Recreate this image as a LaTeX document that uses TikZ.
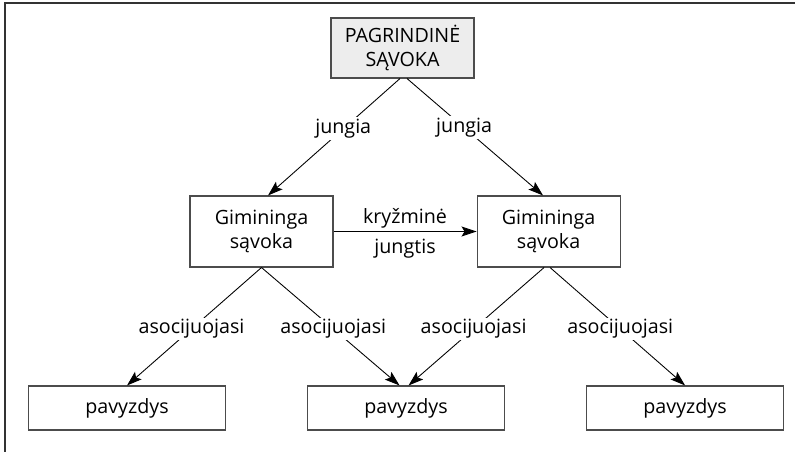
\documentclass[tikz,border=0pt]{standalone}
\usepackage{fontspec}
\setmainfont{Open Sans}
\usetikzlibrary{arrows.meta,chains,positioning}
\tikzset{every picture/.style={
  >={Stealth[length=3mm,width=2mm,inset=0.6mm]} % Filled arrow heads.
  }
}

\begin{document}
\begin{tikzpicture}[
    font=\fontsize{11.2}{13.4}\selectfont,
    box/.style={
      rectangle,
      draw=black!70,
      line width=0.6pt,
      inner sep=0pt,
      align=center,
      minimum width=2.86cm,
      minimum height=1.42cm
    },
    ex/.style={
      box,
      on chain,
      minimum width=3.94cm,
      minimum height=0.88cm
    },
    lbl/.style={
      fill=white,
      inner sep=1pt
    },
    link/.style={
      ->,
      line width=0.5pt
    }]

    \useasboundingbox (0,0) rectangle (15.9,-9.04);

    % Frame of the figure.
    \draw[line width=1pt,black!80] (15.9,-0.06) -- (0.1,-0.06) -- (0.1,-9.04);

    % Main concept and the related concepts.
    \node[box,fill=black!7,minimum height=1.2cm] (main) at (8.05,-0.96)
      {PAGRINDINĖ\\SĄVOKA};
    \node[box] (relL) at (5.23,-4.63) {Gimininga\\sąvoka};
    \node[box,right=2.86cm of relL] (relR) {Gimininga\\sąvoka};

    % Row of examples.
    \begin{scope}[
      start chain=going right,
      node distance=1.62cm
      ]
      \node[ex] (exL) at (2.54,-8.16) {pavyzdys};
      \node[ex] (exM) {pavyzdys};
      \node[ex] (exR) {pavyzdys};
    \end{scope}

    % Links from the main concept.
    \draw[link] ([xshift=-0.05cm] main.south) -- ([xshift=0.13cm] relL.north)
      node[lbl,pos=0.43] {jungia};
    \draw[link] ([xshift=0.09cm] main.south) -- ([xshift=-0.11cm] relR.north)
      node[lbl,pos=0.42] {jungia};

    % Cross link between the related concepts.
    \draw[link] (relL.east) -- (relR.west)
      node[midway,above=-2pt] {kryžminė}
      node[midway,below=1pt] {jungtis};

    % Links to the examples.
    \draw[link] (relL.south) -- (exL.north)
      node[lbl,pos=0.52] {asocijuojasi};
    \draw[link] (relL.south) -- ([xshift=-0.13cm] exM.north)
      node[lbl,pos=0.52] {asocijuojasi};
    \draw[link] ([xshift=-0.09cm] relR.south) -- ([xshift=0.05cm] exM.north)
      node[lbl,pos=0.52] {asocijuojasi};
    \draw[link] ([xshift=0.03cm] relR.south) -- (exR.north)
      node[lbl,pos=0.52] {asocijuojasi};
  \end{tikzpicture}
\end{document}
